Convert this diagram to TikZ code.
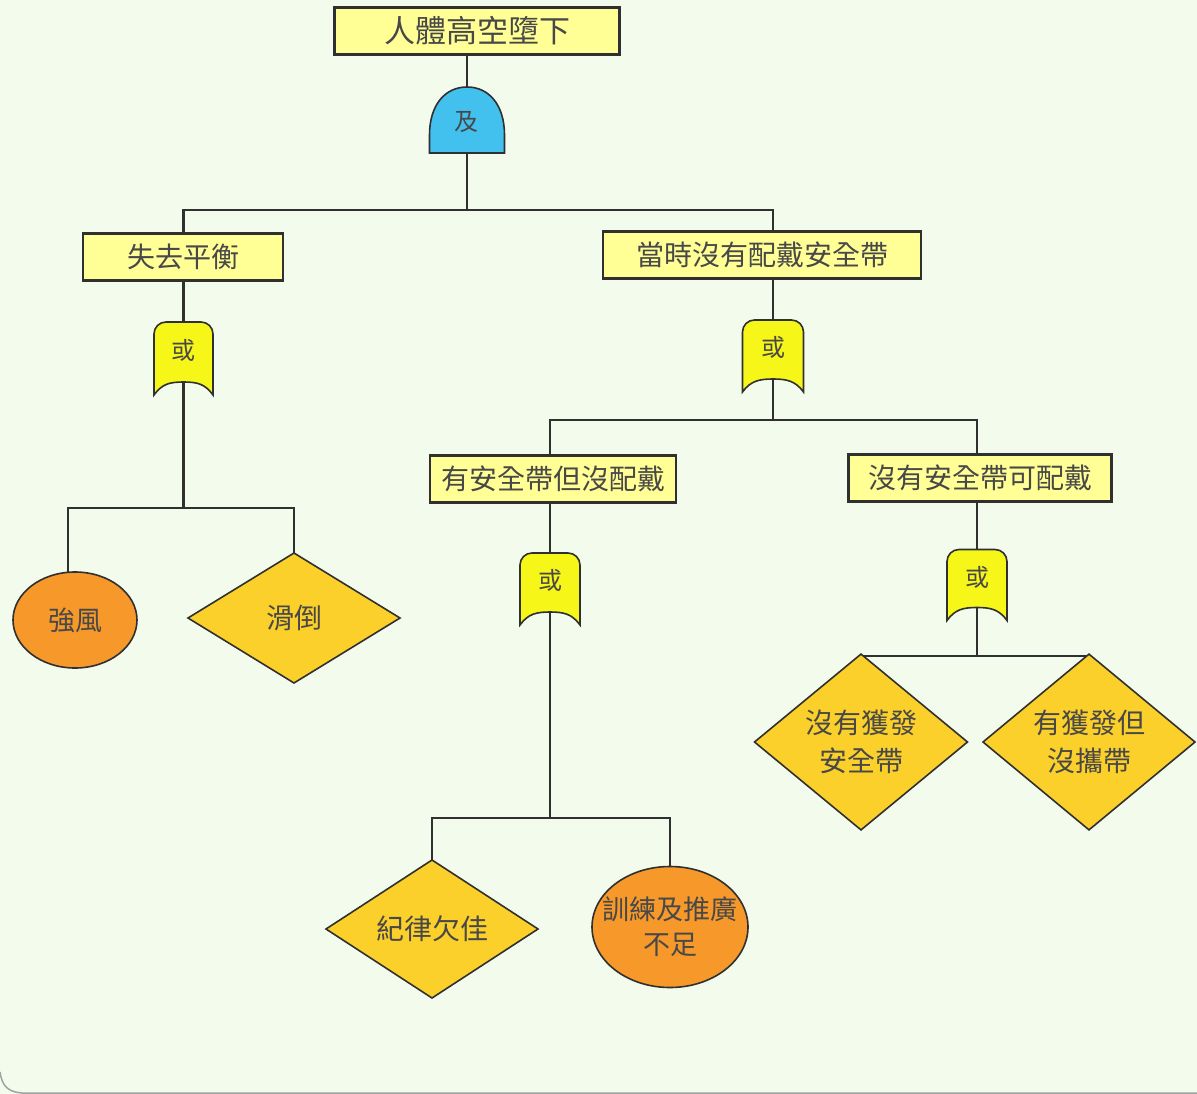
\documentclass[tikz,border=0pt]{standalone}
\usepackage{fontspec}
\newfontfamily\cjk{Noto Sans CJK TC}
\usetikzlibrary{shapes.geometric,calc}
\pgfdeclarelayer{paper}
\pgfdeclarelayer{wires}
\pgfdeclarelayer{gates}
\pgfsetlayers{paper,wires,gates,main}

\definecolor{paperc}{RGB}{242,251,236}
\definecolor{ink}{RGB}{48,48,48}
\definecolor{txt}{RGB}{72,72,72}
\definecolor{boxy}{RGB}{255,255,150}
\definecolor{diay}{RGB}{252,208,42}
\definecolor{ovor}{RGB}{246,152,42}
\definecolor{gatey}{RGB}{246,246,24}
\definecolor{gateb}{RGB}{66,192,238}

\tikzset{
  x=1pt, y=-1pt,
  every node/.style={text=txt, inner sep=0pt, outer sep=0pt},
  eventbox/.style={draw=ink, line width=2.2pt, fill=boxy,
    minimum width=#1, minimum height=47pt,
    font=\cjk\fontsize{28}{32}\selectfont},
  basicev/.style n args={2}{ellipse, draw=ink, line width=1.6pt, fill=ovor,
    minimum width=#1, minimum height=#2, align=center,
    font=\cjk\fontsize{27}{36}\selectfont},
  undev/.style n args={2}{diamond, aspect=1, draw=ink, line width=1.6pt, fill=diay,
    minimum width=#1, minimum height=#2, align=center,
    font=\cjk\fontsize{28}{38}\selectfont},
  gatearea/.style n args={2}{minimum width=#1, minimum height=#2},
  gatetext/.style={font=\cjk\fontsize{24}{26}\selectfont},
  wire/.style={draw=ink, line width=2.6pt},
  gateline/.style={draw=ink, line width=1.6pt},
}

% OR gate outline: rounded top, straight sides, concave bottom
\newcommand\orshape[1]{%
  \path[gateline, fill=gatey]
    (#1.south west) [rounded corners=12pt] -- (#1.north west) -- (#1.north east)
    [sharp corners] -- (#1.south east)
    .. controls ($(#1.south east)+(-8,-11)$) and ($(#1.south)+(14,-13)$) .. ($(#1.south)+(0,-13)$)
    .. controls ($(#1.south)+(-14,-13)$) and ($(#1.south west)+(8,-11)$) .. (#1.south west) -- cycle;}

% AND gate outline: flat bottom, arched top
\newcommand\andshape[1]{%
  \path[gateline, fill=gateb]
    (#1.south west) -- ($(#1.south west)+(0,-18)$)
    .. controls ($(#1.north west)+(0,18)$) and ($(#1.north)+(-22,0)$) .. (#1.north)
    .. controls ($(#1.north)+(22,0)$) and ($(#1.north east)+(0,18)$) .. ($(#1.south east)+(0,-18)$)
    -- (#1.south east) -- cycle;}

\begin{document}
\begin{tikzpicture}
\useasboundingbox (0,0) rectangle (1197,1094);

\begin{pgfonlayer}{paper}
  \fill[paperc] (0,0) rectangle (1197,1094);
  \draw[ink!45, line width=1.5pt] (0,1072) .. controls (2,1086) and (8,1092) .. (22,1093) -- (1197,1093);
\end{pgfonlayer}

% events
\node[eventbox=285pt, font=\cjk\fontsize{31}{34}\selectfont] (top) at (477,31) {人體高空墮下};
\node[eventbox=200pt] (lose) at (183,257) {失去平衡};
\node[eventbox=318pt] (nobelt) at (762,255) {當時沒有配戴安全帶};
\node[eventbox=246pt] (hasbelt) at (553,479) {有安全帶但沒配戴};
\node[eventbox=263pt] (noavail) at (980,478) {沒有安全帶可配戴};

% gates
\node[gatearea={75pt}{66pt}] (andg) at (467,120) {};
\node[gatetext] at (466,122) {及};
\node[gatearea={59pt}{73pt}] (or1) at (183.5,358.5) {};
\node[gatetext] at (183.5,350) {或};
\node[gatearea={61pt}{72pt}] (or2) at (773,356) {};
\node[gatetext] at (773,347) {或};
\node[gatearea={60pt}{72pt}] (or3) at (550,589) {};
\node[gatetext] at (550,580) {或};
\node[gatearea={60pt}{71pt}] (or4) at (977,585) {};
\node[gatetext] at (977,577) {或};

% basic and undeveloped events
\node[basicev={124pt}{96pt}] (wind) at (75,620) {強風};
\node[undev={212pt}{130pt}] (slip) at (294,618) {滑倒};
\node[undev={212pt}{132pt}] (disc) at (432,929) {紀律欠佳};
\node[basicev={156pt}{121pt},
      label={[font=\cjk\fontsize{27}{35}\selectfont, align=center, text=txt]center:訓練及推廣\\不足}]
      (train) at (670,927) {};
\node[undev={213pt}{131pt}] (notiss) at (861,742) {沒有獲發\\安全帶};
\node[undev={212pt}{131pt}] (notcar) at (1089,742) {有獲發但\\沒攜帶};

% junctions
\coordinate (j1) at (467,210);
\coordinate (j2) at (183.5,508);
\coordinate (j3) at (773,420);
\coordinate (j4) at (550,818);
\coordinate (j5) at (977,656);

\begin{pgfonlayer}{wires}
  \draw[wire] (top.south -| andg) -- (andg.center) -- (j1);
  \draw[wire] (lose.north -| or1) |- (j1) -| (nobelt.north -| or2);
  \draw[wire] (lose.south -| or1) -- (j2);
  \draw[wire] ($(wind.north)+(-7,1)$) |- (j2) -| (slip.north);
  \draw[wire] (nobelt.south -| or2) -- (j3);
  \draw[wire] (hasbelt.north -| or3) |- (j3) -| (noavail.north -| or4);
  \draw[wire] (hasbelt.south -| or3) -- (j4);
  \draw[wire] (disc.north) |- (j4) -| (train.north);
  \draw[wire] (noavail.south -| or4) -- (j5);
  \draw[wire] (notiss.north) |- (j5) -| (notcar.north);
\end{pgfonlayer}

\begin{pgfonlayer}{gates}
  \andshape{andg}
  \orshape{or1}
  \orshape{or2}
  \orshape{or3}
  \orshape{or4}
\end{pgfonlayer}
\end{tikzpicture}
\end{document}
